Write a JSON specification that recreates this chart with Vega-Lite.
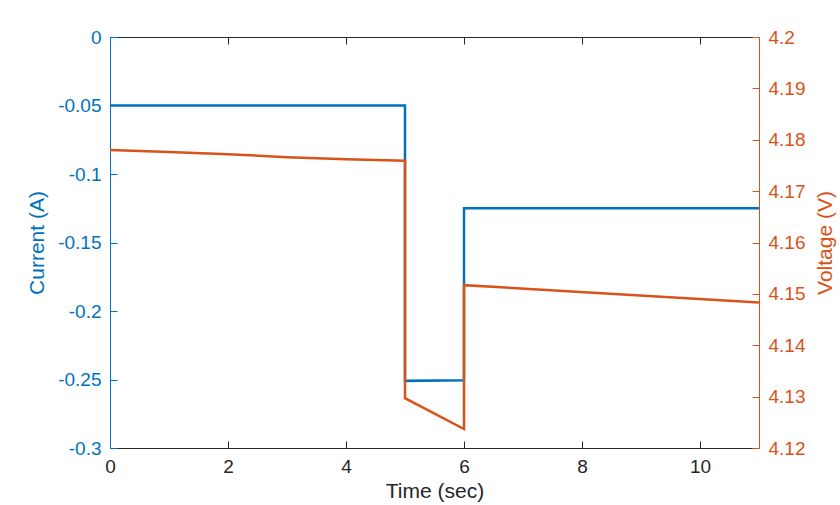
{
  "$schema": "https://vega.github.io/schema/vega-lite/v6.json",
  "autosize": {"type": "none"},
  "padding": {"left": 110, "top": 37, "right": 81, "bottom": 57},
  "width": 649,
  "height": 411,
  "background": "white",
  "config": {
    "view": {"stroke": null},
    "font": "Liberation Sans",
    "axis": {
      "grid": false,
      "labelFontSize": 19,
      "titleFontSize": 21,
      "titleFontWeight": "normal",
      "tickSize": -7,
      "tickWidth": 1,
      "domainWidth": 1,
      "labelPadding": 16,
      "labelFlush": false
    }
  },
  "datasets": {
    "current": [
      {"i": 0, "t": 0, "current": -0.05},
      {"i": 1, "t": 5, "current": -0.05},
      {"i": 2, "t": 5, "current": -0.251},
      {"i": 3, "t": 6, "current": -0.2505},
      {"i": 4, "t": 6, "current": -0.125},
      {"i": 5, "t": 11, "current": -0.125}
    ],
    "voltage": [
      {"i": 0, "t": 0, "voltage": 4.178},
      {"i": 1, "t": 1, "voltage": 4.1776},
      {"i": 2, "t": 2, "voltage": 4.1772},
      {"i": 3, "t": 3, "voltage": 4.1766},
      {"i": 4, "t": 4, "voltage": 4.1762},
      {"i": 5, "t": 5, "voltage": 4.1759},
      {"i": 6, "t": 5, "voltage": 4.1297},
      {"i": 7, "t": 6, "voltage": 4.1237},
      {"i": 8, "t": 6, "voltage": 4.1517},
      {"i": 9, "t": 11, "voltage": 4.1483}
    ]
  },
  "layer": [
    {
      "data": {"name": "current"},
      "mark": {"type": "line", "color": "#0072BD", "strokeWidth": 2.5, "clip": true},
      "encoding": {
        "x": {
          "field": "t",
          "type": "quantitative",
          "scale": {"domain": [0, 11], "nice": false, "zero": false},
          "axis": {
            "orient": "bottom",
            "title": "Time (sec)",
            "values": [0, 2, 4, 6, 8, 10],
            "domainColor": "#262626",
            "tickColor": "#262626",
            "labelColor": "#262626",
            "titleColor": "#262626",
            "titlePadding": 4
          }
        },
        "y": {
          "field": "current",
          "type": "quantitative",
          "scale": {"domain": [-0.3, 0], "nice": false, "zero": false},
          "axis": {
            "orient": "left",
            "title": "Current (A)",
            "values": [0, -0.05, -0.1, -0.15, -0.2, -0.25, -0.3],
            "labelExpr": "'' + datum.value",
            "domainColor": "#0072BD",
            "tickColor": "#0072BD",
            "labelColor": "#0072BD",
            "titleColor": "#0072BD",
            "titlePadding": 10
          }
        },
        "order": {"field": "i", "type": "quantitative"}
      }
    },
    {
      "data": {"name": "voltage"},
      "mark": {"type": "line", "color": "#D95319", "strokeWidth": 2.5, "clip": true},
      "encoding": {
        "x": {
          "field": "t",
          "type": "quantitative",
          "scale": {"domain": [0, 11], "nice": false, "zero": false},
          "axis": {
            "orient": "top",
            "title": null,
            "labels": false,
            "values": [0, 2, 4, 6, 8, 10],
            "domainColor": "#262626",
            "tickColor": "#262626"
          }
        },
        "y": {
          "field": "voltage",
          "type": "quantitative",
          "scale": {"domain": [4.12, 4.2], "nice": false, "zero": false},
          "axis": {
            "orient": "right",
            "title": "Voltage (V)",
            "titleAngle": 270,
            "titleBaseline": "top",
            "values": [4.12, 4.13, 4.14, 4.15, 4.16, 4.17, 4.18, 4.19, 4.2],
            "labelExpr": "'' + datum.value",
            "domainColor": "#D95319",
            "tickColor": "#D95319",
            "labelColor": "#D95319",
            "titleColor": "#D95319",
            "titlePadding": 10
          }
        },
        "order": {"field": "i", "type": "quantitative"}
      }
    }
  ],
  "resolve": {"scale": {"y": "independent"}, "axis": {"x": "independent", "y": "independent"}}
}
